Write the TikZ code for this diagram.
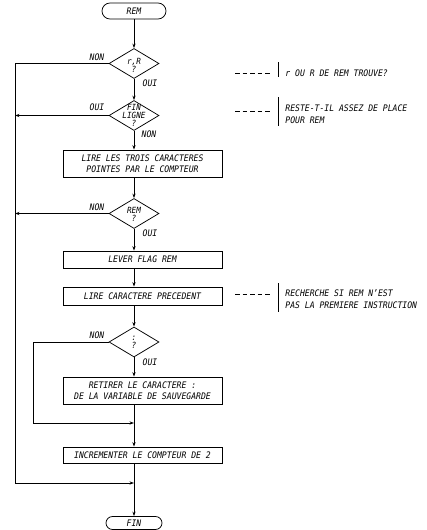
\documentclass[tikz,border=0pt]{standalone}
\usepackage{fontspec}
\setmainfont{DejaVu Sans Mono}[FakeStretch=0.9]
\usetikzlibrary{shapes.geometric,arrows.meta}
\newcommand\plotfont{\itshape\fontsize{9}{11.5}\selectfont}
\newcommand\plotsmall{\itshape\fontsize{8.5}{8}\selectfont}
\begin{document}
\begin{tikzpicture}[x=1pt,y=-1pt,
  every path/.style={line width=0.75pt},
  arr/.style={-{Stealth[length=4.5pt,width=3.2pt]}},
  box/.style={draw, minimum width=159pt, inner sep=0pt, align=center, font=\plotfont},
  term/.style={draw, rounded corners=8pt, minimum height=16pt, inner sep=0pt, font=\plotfont},
  dia/.style={draw, diamond, minimum width=50pt, minimum height=30pt, inner sep=0pt},
  dtxt/.style={inner sep=0pt, align=center, font=\plotsmall},
  lab/.style={inner sep=0pt, font=\plotfont},
  note/.style={inner sep=0pt, anchor=west, align=left, font=\plotfont},
  dashline/.style={dash pattern=on 4.5pt off 3pt}]
\useasboundingbox (0,0) rectangle (427,530);

% main column
\node[term, minimum width=64pt] (rem) at (134,11) {REM};
\node[dia] (d1) at (134,63.5) {};
\node[dtxt] (t1) at (134,65) {r,R\\?};
\node[dia] (d2) at (134,115.5) {};
\node[dtxt] (t2) at (134,115) {FIN\\LIGNE\\?};
\node[box, minimum height=27pt] (b1) at (142.5,163.5) {LIRE LES TROIS CARACTERES\\POINTES PAR LE COMPTEUR};
\node[dia] (d3) at (134,213.5) {};
\node[dtxt] (t3) at (134,214) {REM\\?};
\node[box, minimum height=17pt] (b2) at (142.5,259.5) {LEVER FLAG REM};
\node[box, minimum height=18pt] (b3) at (142.5,296) {LIRE CARACTERE PRECEDENT};
\node[dia] (d4) at (134,342) {};
\node[dtxt] (t4) at (134,342) {:\\?};
\node[box, minimum height=27pt] (b4) at (142.5,390.5) {RETIRER LE CARACTERE :\\DE LA VARIABLE DE SAUVEGARDE};
\node[box, minimum height=16pt] (b5) at (142.5,455) {INCREMENTER LE COMPTEUR DE 2};
\node[term, minimum width=56pt, minimum height=13pt, rounded corners=6.5pt] (fin) at (134,523) {FIN};

\coordinate (j1) at (134,423);
\coordinate (j2) at (134,483);

\draw[arr] (rem) -- (d1);
\draw[arr] (d1) -- (d2);
\draw[arr] (d2.south) -- (d2.south |- b1.north);
\draw[arr] (d2.south |- b1.south) -- (d3.north);
\draw[arr] (d3.south) -- (d3.south |- b2.north);
\draw[arr] (d3.south |- b2.south) -- (d3.south |- b3.north);
\draw[arr] (d3.south |- b3.south) -- (d4.north);
\draw[arr] (d4.south) -- (d4.south |- b4.north);
\draw (d4.south |- b4.south) -- (j1);
\draw[arr] (j1) -- (j1 |- b5.north);
\draw (j1 |- b5.south) -- (j2);
\draw[arr] (j2) -- (fin);

% left loops
\coordinate (c1) at (15,63.5);
\coordinate (c2) at (15,483);
\coordinate (c3) at (15,115.5);
\coordinate (c4) at (15,213.5);
\coordinate (c5) at (33,342);
\coordinate (c6) at (33,423);
\draw[arr] (d1.west) -- (c1) -- (c2) -- (j2);
\draw[arr] (d2.west) -- (c3);
\draw[arr] (d3.west) -- (c4);
\draw[arr] (d4.west) -- (c5) -- (c6) -- (j1);

% branch labels
\node[lab] (n1) at (97,57) {NON};
\node[lab] (o1) at (150,83) {OUI};
\node[lab] (o2) at (97,107.5) {OUI};
\node[lab] (n2) at (149,134) {NON};
\node[lab] (n3) at (97,207) {NON};
\node[lab] (o3) at (150,233) {OUI};
\node[lab] (n4) at (97,335) {NON};
\node[lab] (o4) at (150,362) {OUI};

% annotations
\coordinate (a1s) at (235,73); \coordinate (a1e) at (270,73);
\draw[dashline] (a1s) -- (a1e);
\draw (278,62) -- (278,77);
\node[note] (m1) at (285,73) {r OU R DE REM TROUVE?};

\coordinate (a2s) at (235,111); \coordinate (a2e) at (270,111);
\draw[dashline] (a2s) -- (a2e);
\draw (278,97) -- (278,126);
\node[note] (m2) at (285,114) {RESTE-T-IL ASSEZ DE PLACE\\POUR REM};

\coordinate (a3s) at (235,294); \coordinate (a3e) at (270,294);
\draw[dashline] (a3s) -- (a3e);
\draw (278,283) -- (278,312);
\node[note] (m3) at (285,299) {RECHERCHE SI REM N'EST\\PAS LA PREMIERE INSTRUCTION};
\end{tikzpicture}
\end{document}
